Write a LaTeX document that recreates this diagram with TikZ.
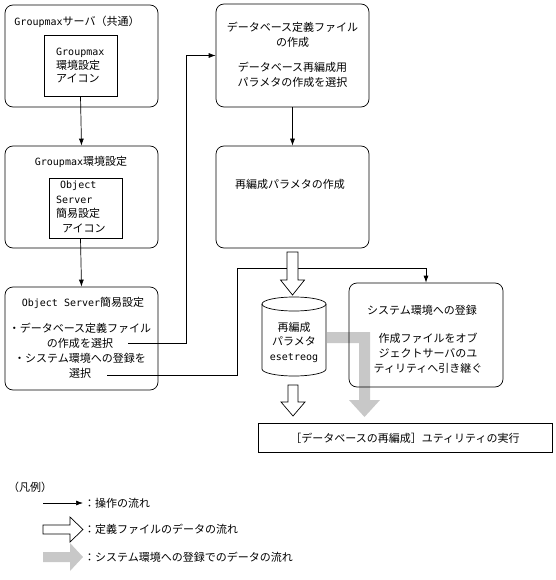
\documentclass[tikz,border=0pt]{standalone}
\usepackage{fontspec}
\setmainfont{Noto Sans CJK JP}
\newfontfamily\lat{DejaVu Sans Mono}
\newcommand{\lt}[1]{{\lat\fontsize{10}{15}\selectfont #1}}
\usetikzlibrary{arrows.meta}
\definecolor{gfill}{RGB}{200,200,200}
\begin{document}
\begin{tikzpicture}[x=1pt,y=-1pt,
  rbox/.style={draw, rounded corners=8pt, minimum width=153pt, minimum height=102pt, inner sep=0pt, line width=0.7pt},
  sbox/.style={draw, inner sep=0pt, line width=0.7pt},
  txt/.style={font=\fontsize{11}{15}\selectfont, inner sep=0pt, align=center},
  flow/.style={line width=0.7pt, -{Latex[length=7pt,width=5pt]}},
  hollow/.style={draw, fill=white, line width=0.7pt},
  grayflow/.style={fill=gfill, draw=none}]
\useasboundingbox (0,0) rectangle (555,580);

% boxes
\node[rbox] (A) at (81.5,56) {};
\node[sbox, minimum width=73pt, minimum height=61pt] (Ai) at (80.5,65.5) {};
\node[rbox] (B) at (81.5,197) {};
\node[sbox, minimum width=73pt, minimum height=60pt] (Bi) at (85.5,208) {};
\node[rbox, minimum height=103pt] (C) at (81.5,338.5) {};
\node[rbox, minimum height=103pt] (D) at (292.5,55.5) {};
\node[rbox] (E) at (292.5,197) {};

% gray flow (behind F)
\draw[grayflow] (327,332) -- (370,332) -- (370,400) -- (380,400) -- (364.5,417)
  -- (349,400) -- (359,400) -- (359,343) -- (327,343) -- cycle;

\node[rbox, minimum width=154pt, minimum height=104pt] (F) at (426,335) {};
\node[sbox, minimum width=294pt, minimum height=29pt] (G) at (405,437.5) {};

% cylinder
\node[inner sep=0pt, minimum width=64pt, minimum height=79pt] (cyl) at (294,336.5) {};
\draw[line width=0.7pt] (262,304) -- (262,369)
  arc[start angle=180, end angle=360, x radius=32pt, y radius=7pt] -- (326,304);
\draw[line width=0.7pt] (294,304) ellipse [x radius=32pt, y radius=7pt];

% texts
\node[txt] (tA) at (77,22) {\lt{Groupmax}サーバ（共通）};
\node[txt, align=left, anchor=west, font=\fontsize{11}{13.5}\selectfont] (tAi) at (56,65.5) {\lt{Groupmax}\\環境設定\\アイコン};
\node[txt] (tB) at (81,162) {\lt{Groupmax}環境設定};
\node[txt, anchor=west] (tB1) at (60,186) {\lt{Object}};
\node[txt, anchor=west] (tB2) at (56,200) {\lt{Server}};
\node[txt, anchor=west] (tB3) at (56,213) {簡易設定};
\node[txt, anchor=west] (tB4) at (62,228) {アイコン};
\node[txt] (tC) at (83,303) {\lt{Object Server}簡易設定};
\node[txt] (tC2) at (80,351) {・データベース定義ファイル\\の作成を選択\\・システム環境への登録を\\選択};
\node[txt] (tD1) at (292.5,35) {データベース定義ファイル\\の作成};
\node[txt] (tD2) at (292.5,75) {データベース再編成用\\パラメタの作成を選択};
\node[txt] (tE) at (290,184) {再編成パラメタの作成};
\node[txt] (tF1) at (422,310) {システム環境への登録};
\node[txt] (tF2) at (428,353) {作成ファイルをオブ\\ジェクトサーバのユ\\ティリティへ引き継ぐ};
\node[txt, align=center, font=\fontsize{11}{14.5}\selectfont] (tcyl) at (294,342) {再編成\\パラメタ\\\lt{esetreog}};
\node[txt] (tG) at (405,438) {［データベースの再編成］ユティリティの実行};

% operation flow connectors
\draw[flow] (Ai.south) -- (B.north);
\draw[flow] (Bi.south -| Ai.south) -- (C.north);
\draw[flow] (D.south) -- (E.north);
\coordinate (c1) at (128,343);
\coordinate (k1) at (186,55.5);
\draw[flow] (c1) -| (k1) -- (D.west);
\coordinate (c2) at (107,375);
\coordinate (k2) at (237,268);
\draw[flow] (c2) -| (k2) -| (F.north);

% definition-file data flow
\draw[hollow] (287,252) -- (298,252) -- (298,280) -- (304.5,280) -- (292.5,295)
  -- (280.5,280) -- (287,280) -- cycle;
\draw[hollow] (288,385) -- (298,385) -- (298,402) -- (305,402) -- (293,416)
  -- (281,402) -- (288,402) -- cycle;

% legend
\node[txt, anchor=west] (lg) at (8,487) {（凡例）};
\coordinate (l1a) at (43,503);
\coordinate (l1b) at (83,503);
\draw[flow] (l1a) -- (l1b);
\node[txt, anchor=west] (lt1) at (84,503) {：操作の流れ};
\draw[hollow] (43,525) -- (70,525) -- (70,517) -- (83,529.5) -- (70,542) -- (70,534) -- (43,534) -- cycle;
\node[txt, anchor=west] (lt2) at (84,529.5) {：定義ファイルのデータの流れ};
\draw[grayflow] (43,552) -- (70,552) -- (70,543) -- (83,557) -- (70,571) -- (70,562) -- (43,562) -- cycle;
\node[txt, anchor=west] (lt3) at (84,557) {：システム環境への登録でのデータの流れ};
\end{tikzpicture}
\end{document}
